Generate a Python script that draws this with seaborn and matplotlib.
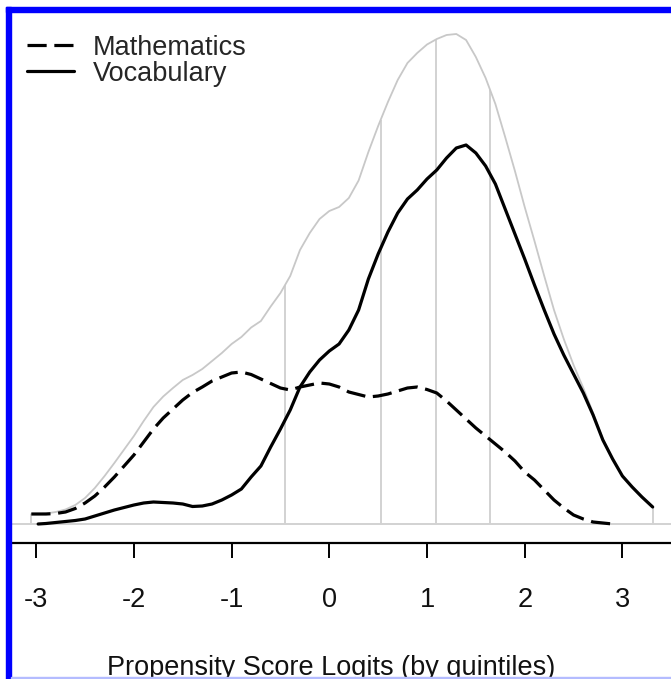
import numpy as np
import pandas as pd
import matplotlib
matplotlib.use("Agg")
import matplotlib.pyplot as plt
from matplotlib.patches import Rectangle
from matplotlib.lines import Line2D
import seaborn as sns

nan = np.nan
# ---- data ----
logit = [-3.05, -2.98, -2.9, -2.8, -2.7, -2.6, -2.5, -2.4, -2.3, -2.2, -2.1, -2.0,
         -1.9, -1.8, -1.7, -1.6, -1.5, -1.4, -1.3, -1.2, -1.1, -1.0,
         -0.9, -0.8, -0.7, -0.6, -0.5, -0.4, -0.3, -0.2, -0.1, 0.0,
         0.1, 0.2, 0.3, 0.4, 0.5, 0.6, 0.7, 0.8, 0.9, 1.0,
         1.1, 1.2, 1.3, 1.4, 1.5, 1.6, 1.7, 1.8, 1.9, 2.0,
         2.1, 2.2, 2.3, 2.4, 2.5, 2.6, 2.7, 2.8, 2.9, 3.0,
         3.1, 3.2, 3.31]
vocabulary = [nan, 0, 0.5, 1.5, 2.5, 3.5, 5, 8, 11, 14, 16.5, 19,
              21, 22, 21.5, 21, 20, 17.5, 18, 20, 24, 29,
              35, 47, 58, 77, 95, 114, 137, 152, 164, 173,
              180, 194, 214, 245, 270, 292, 311, 325, 334, 345,
              354, 366, 376, 379, 371, 358, 340, 315, 290, 265,
              239, 214, 190, 169, 150, 131, 109, 84, 65, 48,
              37, 27, 17]
mathematics = [10, 10, 10, 10.5, 12, 15.5, 21, 28, 37, 47, 58, 69,
               82, 95, 106, 115, 124, 131.5, 137, 143, 147, 151,
               152, 149.5, 145, 140.5, 136, 134, 137, 139, 141, 140,
               137, 132, 129.5, 127, 128, 130, 133, 136, 137, 134.5,
               131, 123, 114, 105, 96, 88, 80, 72, 63, 52,
               44, 34, 24, 16, 9, 5, 2, 1, 0, nan,
               nan, nan, nan]
quintile_cuts = [-0.45, 0.525, 1.09, 1.645]
range_ends = [-3.05, 3.31]
series_names = ["Mathematics", "Vocabulary"]
xticks = [-3, -2, -1, 0, 1, 2, 3]
xlabel = "Propensity Score Logits (by quintiles)"

# ---- style ----
sns.set_style("white")
plt.rcParams["font.family"] = ["Liberation Sans", "DejaVu Sans"]
plt.rcParams["axes.unicode_minus"] = False

W, H = 671, 679
fig = plt.figure(figsize=(W / 100, H / 100), dpi=100)
left_px, right_px, top_px, bottom_px = 11, 671, 12, 543
ax = fig.add_axes([left_px / W, 1 - bottom_px / H, (right_px - left_px) / W, (bottom_px - top_px) / H])

x = np.array(logit)
m = np.array(mathematics, dtype=float) / 1000
v = np.array(vocabulary, dtype=float) / 1000
total = np.nan_to_num(m) + np.nan_to_num(v)

df = pd.DataFrame({
    "logit": np.concatenate([x, x]),
    "density": np.concatenate([m, v]),
    "subject": [series_names[0]] * len(x) + [series_names[1]] * len(x),
})

# baseline & quintile lines
ax.axhline(0, color="#cfcfcf", lw=1.3, zorder=1)
cuts = np.array(range_ends[:1] + quintile_cuts + range_ends[1:])
ax.vlines(cuts, 0, np.interp(cuts, x, total), color="#d2d2d2", lw=1.4, zorder=1)

# total density (gray)
sns.lineplot(x=x, y=total, ax=ax, color="#c8c8c8", lw=1.3, zorder=2, sort=False)

# subject densities
sns.lineplot(data=df.dropna(), x="logit", y="density", style="subject",
             dashes={series_names[0]: (6, 2.4), series_names[1]: ""},
             color="black", lw=2.3, ax=ax, legend=False, zorder=3, sort=False)
for ln in ax.lines:
    ln.set_solid_joinstyle("round")

# axes appearance
xl0 = (left_px - 329.3) / 97.7
xl1 = (right_px - 329.3) / 97.7
ax.set_xlim(xl0, xl1)
ax.set_ylim(-(bottom_px - 524) / 1000, (524 - top_px) / 1000)
for s in ["top", "right", "left"]:
    ax.spines[s].set_visible(False)
ax.spines["bottom"].set_linewidth(1.6)
ax.spines["bottom"].set_color("black")
ax.set_yticks([])
ax.set_ylabel("")
ax.set_xticks(xticks)
ax.set_xticklabels([str(t) for t in xticks])
ax.tick_params(axis="x", direction="out", length=11, width=1.4, color="black",
               pad=21, labelsize=19.5, labelcolor="#111111", bottom=True)
ax.set_xlabel(xlabel, fontsize=19.5, color="#111111")
ax.xaxis.set_label_coords((331 - left_px) / (right_px - left_px),
                          -(675 - bottom_px) / (bottom_px - top_px))
ax.xaxis.label.set_va("baseline")

handles = [Line2D([], [], color="black", lw=2.3, dashes=(6, 2.4)),
           Line2D([], [], color="black", lw=2.3)]
ax.legend(handles, series_names, loc="upper left",
          bbox_to_anchor=(2 / (right_px - left_px), 1.0 - 9 / (bottom_px - top_px)),
          frameon=False, fontsize=19.5, handlelength=1.75, handletextpad=0.7,
          labelspacing=0.0, borderaxespad=0.3, borderpad=0.2)

# blue frame pieces
fig.patches.append(Rectangle((6 / W, 0), 5 / W, (H - 7) / H, transform=fig.transFigure,
                             color="#0000ff", zorder=10))
fig.patches.append(Rectangle((6 / W, (H - 12) / H), 1, 5 / H, transform=fig.transFigure,
                             color="#0000ff", zorder=10))
fig.patches.append(Rectangle((11 / W, 0), 1, 2 / H, transform=fig.transFigure,
                             color="#b4bcff", zorder=10))

fig.savefig("out.png", dpi=100)
